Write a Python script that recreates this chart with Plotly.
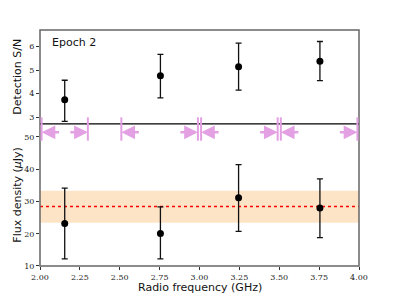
import plotly.graph_objects as go

# ---- data ----
freq = [2.155, 2.755, 3.245, 3.755]
snr = [3.74, 4.76, 5.15, 5.38]
snr_lo = [2.82, 3.82, 4.15, 4.55]
snr_hi = [4.57, 5.67, 6.15, 6.22]
flux = [23.2, 20.1, 31.1, 28.0]
flux_lo = [12.2, 12.2, 20.7, 18.8]
flux_hi = [34.1, 28.3, 41.4, 37.0]
band_lo = [2.01, 2.51, 3.01, 3.51]
band_hi = [2.30, 2.99, 3.49, 3.99]
mean_flux = 28.4
mean_lo = 23.4
mean_hi = 33.3
x_ticks = [2.00, 2.25, 2.50, 2.75, 3.00, 3.25, 3.50, 3.75, 4.00]

PINK = "#E3A0E3"
split = 0.602
tickfont = dict(family="DejaVu Serif", size=8, color="#222")
labfont = dict(family="DejaVu Sans", size=11, color="#111")

fig = go.Figure()

fig.add_trace(go.Scatter(
    x=[2.0, 4.0], y=[mean_flux, mean_flux], mode="lines",
    line=dict(color="red", width=1.5, dash="dot"), xaxis="x", yaxis="y",
    hoverinfo="skip"))

fig.add_trace(go.Scatter(
    x=freq, y=flux, mode="markers",
    marker=dict(color="black", size=7),
    error_y=dict(type="data", symmetric=False,
                 array=[h - v for h, v in zip(flux_hi, flux)],
                 arrayminus=[v - l for v, l in zip(flux, flux_lo)],
                 color="#111", thickness=1.3, width=3),
    xaxis="x", yaxis="y"))

fig.add_trace(go.Scatter(
    x=freq, y=snr, mode="markers",
    marker=dict(color="black", size=7),
    error_y=dict(type="data", symmetric=False,
                 array=[h - v for h, v in zip(snr_hi, snr)],
                 arrayminus=[v - l for v, l in zip(snr, snr_lo)],
                 color="#111", thickness=1.3, width=3),
    xaxis="x2", yaxis="y2"))

shapes = [
    dict(type="rect", xref="x", yref="y", x0=2.0, x1=4.0, y0=mean_lo, y1=mean_hi,
         fillcolor="#FEE4C6", line=dict(width=0), layer="below"),
    dict(type="rect", xref="paper", yref="paper", x0=0, x1=1, y0=0, y1=1,
         line=dict(color="#666", width=1.5)),
    dict(type="line", xref="paper", yref="paper", x0=0, x1=1, y0=split, y1=split,
         line=dict(color="black", width=1.2)),
]
annotations = [
    dict(text="Epoch 2", xref="paper", yref="paper", x=0.03, y=0.985,
         xanchor="left", yanchor="top", showarrow=False, font=labfont),
    dict(text="Detection S/N", xref="paper", yref="paper", x=-0.07, y=(split + 1) / 2,
         xanchor="center", yanchor="middle", textangle=-90, showarrow=False, font=labfont),
    dict(text="Flux density (<i>μ</i>Jy)", xref="paper", yref="paper", x=-0.07, y=split / 2,
         xanchor="center", yanchor="middle", textangle=-90, showarrow=False, font=labfont),
    dict(text="Radio frequency (GHz)", xref="paper", yref="paper", x=0.5, y=-0.093,
         xanchor="center", yanchor="middle", showarrow=False, font=labfont),
]
for lo, hi in zip(band_lo, band_hi):
    for edge, off in ((lo, 19), (hi, -19)):
        shapes.append(dict(type="line", xref="x", yref="paper", x0=edge, x1=edge,
                           y0=0.531, y1=0.630, line=dict(color=PINK, width=2)))
        annotations.append(dict(x=edge, y=51.4, xref="x", yref="y", ax=off, ay=0,
                                axref="pixel", ayref="pixel", text="", showarrow=True,
                                arrowhead=2, arrowsize=1.1, arrowwidth=2.5,
                                arrowcolor=PINK, standoff=0, startstandoff=0))

# page body adds an 8px offset; compensate in margins
fig.update_layout(
    width=391, height=291, margin=dict(l=32, r=40, t=22, b=33, autoexpand=False),
    paper_bgcolor="white", plot_bgcolor="white", showlegend=False,
    shapes=shapes, annotations=annotations,
    xaxis=dict(range=[2.0, 4.0], tickvals=x_ticks, ticktext=[f"{t:.2f}" for t in x_ticks],
               ticks="outside", ticklen=3, tickcolor="#333", showgrid=False, zeroline=False,
               tickfont=tickfont, anchor="y", automargin=False),
    xaxis2=dict(range=[2.0, 4.0], matches="x", showticklabels=False, ticks="",
                showgrid=False, zeroline=False, anchor="y2", automargin=False),
    yaxis=dict(domain=[0, split], range=[10, 54], tickvals=[10, 20, 30, 40, 50],
               ticks="outside", ticklen=3, tickcolor="#333", showgrid=False, zeroline=False,
               tickfont=tickfont, automargin=False),
    yaxis2=dict(domain=[split, 1], range=[2.71, 6.71], tickvals=[3, 4, 5, 6],
                ticks="outside", ticklen=3, tickcolor="#333", showgrid=False, zeroline=False,
                tickfont=tickfont, anchor="x2", automargin=False),
)

fig.write_html("out.html")
